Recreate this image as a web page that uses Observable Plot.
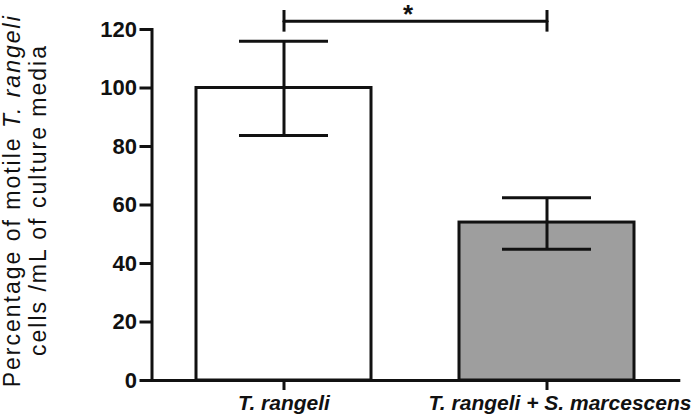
<!DOCTYPE html>
<html>
<head>
<meta charset="utf-8">
<script src="https://cdn.jsdelivr.net/npm/d3@7"></script>
<script src="https://cdn.jsdelivr.net/npm/@observablehq/plot@0.6"></script>
<style>
  html, body { margin: 0; padding: 0; background: #fff; }
  #chart svg { display: block; }
</style>
</head>
<body>
<div id="chart"></div>
<script>
// ---- data ----
const groups = ["T. rangeli", "T. rangeli + S. marcescens"];
const means = [100, 54];
const errLow = [83.8, 44.9];
const errHigh = [116, 62.5];
const fills = ["#ffffff", "#9e9e9e"];
const yTicks = [0, 20, 40, 60, 80, 100, 120];
const sigGroups = ["T. rangeli", "T. rangeli + S. marcescens"];
const sigLevel = 122.8;
const sigEndLow = 119.1;
const sigEndHigh = 126.5;
const sigText = "*";
const sigTextLevel = 125;

const data = groups.map((g, i) => ({group: g, mean: means[i], lo: errLow[i], hi: errHigh[i], fill: fills[i]}));
const bracket = sigGroups.map(g => ({group: g, y: sigLevel, y1: sigEndLow, y2: sigEndHigh}));

const ink = "#111";
const font = "'Liberation Sans', Arial, Helvetica, sans-serif";

const chart = Plot.plot({
  width: 699,
  height: 417,
  marginLeft: 151.5,
  marginRight: 20.7,
  marginTop: 29,
  marginBottom: 37,
  style: {fontFamily: font, background: "#fff", color: ink, overflow: "visible"},
  x: {domain: groups, paddingInner: 0.336, paddingOuter: 0.1675, align: 0.5, label: null},
  y: {domain: [0, 120], label: null},
  color: {type: "identity"},
  marks: [
    Plot.barY(data, {x: "group", y: "mean", fill: "fill", stroke: ink, strokeWidth: 3}),
    Plot.ruleX(data, {x: "group", y1: "lo", y2: "hi", stroke: ink, strokeWidth: 3}),
    Plot.tickY(data, {x: "group", y: "lo", insetLeft: 43, insetRight: 43, stroke: ink, strokeWidth: 3}),
    Plot.tickY(data, {x: "group", y: "hi", insetLeft: 43, insetRight: 43, stroke: ink, strokeWidth: 3}),
    Plot.frame({anchor: "left", stroke: ink, strokeWidth: 3}),
    Plot.frame({anchor: "bottom", stroke: ink, strokeWidth: 3}),
    Plot.axisY(yTicks, {tickSize: 12, tickPadding: 3, fontSize: 22, fontWeight: "bold", stroke: ink, strokeWidth: 3, fill: ink, label: null}),
    Plot.axisX({tickSize: 10, tickFormat: () => "", stroke: ink, strokeWidth: 3, label: null}),
    Plot.axisX([groups[0]], {tickSize: 0, tickPadding: 15, fontSize: 21, fontWeight: "bold", fontStyle: "italic", fill: ink, label: null}),
    Plot.axisX([groups[1]], {tickSize: 0, tickPadding: 15, dx: 13, fontSize: 21, fontWeight: "bold", fontStyle: "italic", fill: ink, label: null}),
    // significance bracket
    Plot.line(bracket, {x: "group", y: "y", stroke: ink, strokeWidth: 3}),
    Plot.ruleX(bracket, {x: "group", y1: "y1", y2: "y2", stroke: ink, strokeWidth: 3}),
    Plot.text([{group: sigGroups[0], y: sigTextLevel, t: sigText}], {x: "group", y: "y", text: "t", dx: 124, lineAnchor: "middle", fontSize: 26, fontWeight: "bold", fill: ink})
  ]
});

document.getElementById("chart").appendChild(chart);

// y-axis title (two lines, with italic species name)
const svg = d3.select(chart);
const title = svg.append("g")
  .attr("font-family", font)
  .attr("font-size", 23)
  .attr("fill", ink)
  .attr("letter-spacing", "2px")
  .attr("text-anchor", "middle");
const l1 = title.append("text").attr("transform", "translate(19.5,200.8) rotate(-90)");
l1.append("tspan").text("Percentage of motile ");
l1.append("tspan").attr("font-style", "italic").text("T. rangeli");
title.append("text").attr("transform", "translate(46,200) rotate(-90)").text("cells /mL of culture media");
</script>
</body>
</html>
